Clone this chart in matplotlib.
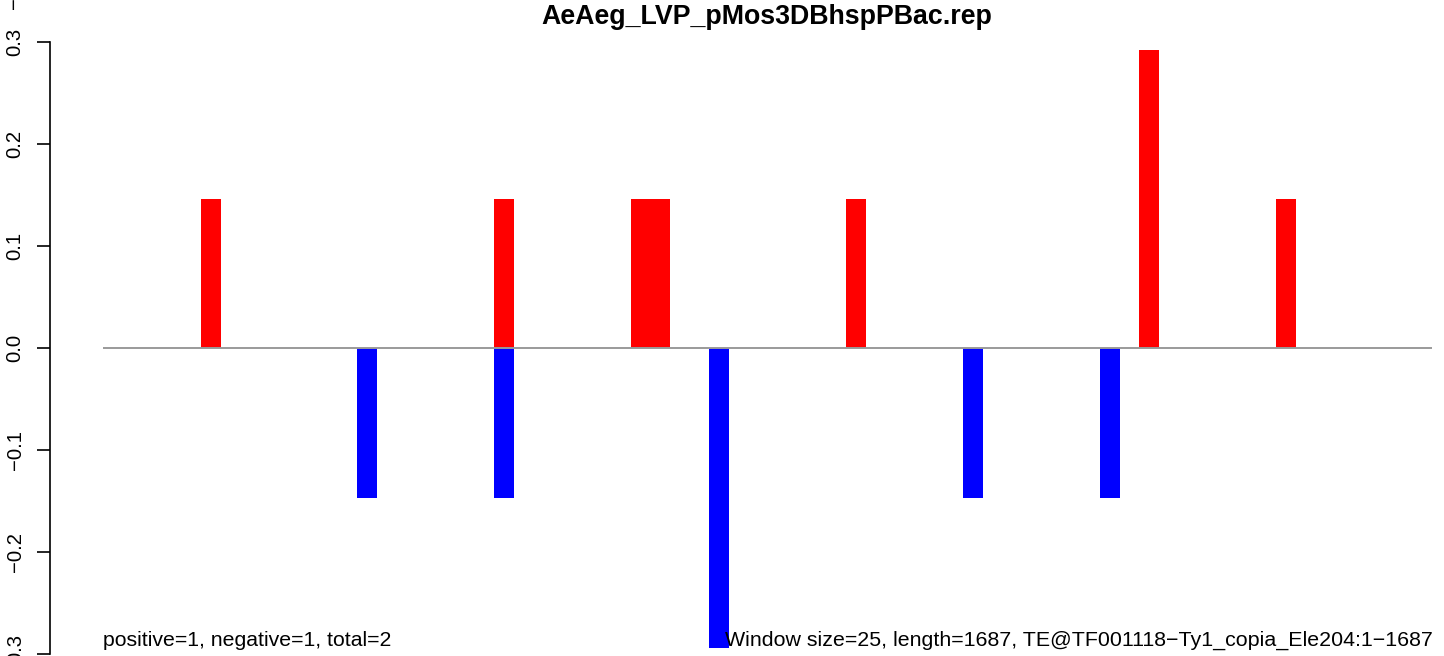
import numpy as np
import matplotlib
matplotlib.use("Agg")
import matplotlib.pyplot as plt

plt.rcParams['font.family'] = ['Liberation Sans', 'DejaVu Sans']

title = "AeAeg_LVP_pMos3DBhspPBac.rep"
window_size = 25
seq_length = 1687
n_windows = 68

pos_windows = [5, 20, 27, 28, 38, 53, 60]
pos_values = [0.146, 0.146, 0.146, 0.146, 0.146, 0.292, 0.146]
neg_windows = [13, 20, 31, 44, 51]
neg_values = [-0.147, -0.147, -0.294, -0.147, -0.147]

yticks = [-0.3, -0.2, -0.1, 0.0, 0.1, 0.2, 0.3]
ytick_labels = ["\u22120.3", "\u22120.2", "\u22120.1", "0.0", "0.1", "0.2", "0.3"]

left_text = "positive=1, negative=1, total=2"
right_text = "Window size=25, length=1687, TE@TF001118\u2212Ty1_copia_Ele204:1\u22121687"

W, H = 1444, 656
dpi = 100
fig = plt.figure(figsize=(W / dpi, H / dpi), dpi=dpi)

px_per_bp = 0.7818
x0_px = 50.2
ax = fig.add_axes([x0_px / W, 0, 1 - x0_px / W, 1])
xmin = -0.04 * n_windows * window_size
ax.set_xlim(xmin, xmin + (W - x0_px) / px_per_bp)
px_per_unit = 1021.0
zero_px = 348.0
ax.set_ylim(-(H - zero_px) / px_per_unit, zero_px / px_per_unit)

ax.bar(np.array(pos_windows) * window_size, pos_values, width=window_size,
       align='edge', color='#ff0000', linewidth=0, zorder=2)
ax.bar(np.array(neg_windows) * window_size, neg_values, width=window_size,
       align='edge', color='#0000ff', linewidth=0, zorder=2)
ax.plot([0, n_windows * window_size], [0, 0], color='#9a9a9a', lw=1.4, zorder=3,
        solid_capstyle='butt')

for s in ['top', 'right', 'bottom']:
    ax.spines[s].set_visible(False)
ax.spines['left'].set_bounds(-0.3, 0.3)
ax.spines['left'].set_linewidth(1.2)
ax.patch.set_alpha(0)
ax.set_xticks([])
ax.set_yticks(yticks)
ax.set_yticklabels(ytick_labels, rotation=90, va='center', fontsize=14.6)
ax.tick_params(axis='y', length=9.4, width=1.2, pad=9.0)

ax.text(0, -(646 - zero_px) / px_per_unit, left_text, ha='left', va='baseline',
        fontsize=15.3, zorder=4)
ax.text(n_windows * window_size, -(646 - zero_px) / px_per_unit, right_text,
        ha='right', va='baseline', fontsize=15.4, zorder=4)

fig.text(767 / W, 1 - 24 / H, title, ha='center', va='baseline',
         fontsize=19.3, fontweight='bold')
fig.text(14 / W, 1 - 3 / H, "\u2212", rotation=90, ha='center', va='center', fontsize=14.6)

fig.savefig("out.png", dpi=dpi)
